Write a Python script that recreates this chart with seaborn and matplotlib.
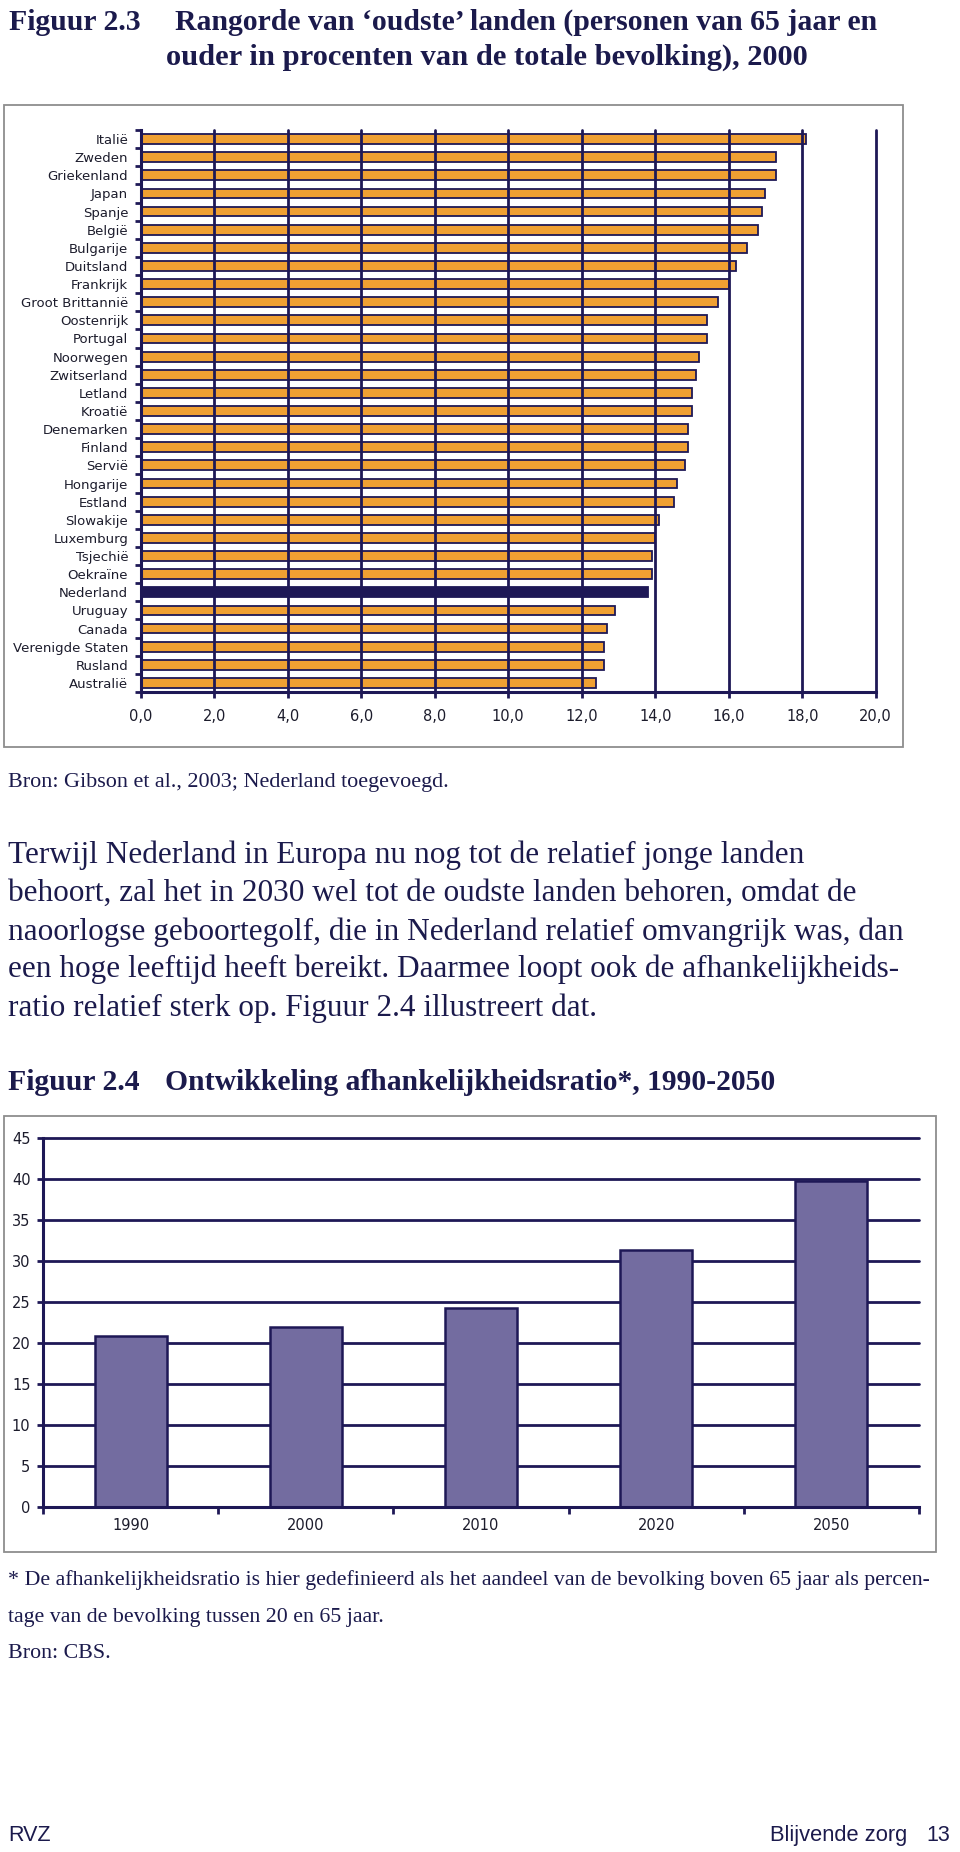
"""Pagina met figuur 2.3 (oudste landen) en figuur 2.4 (afhankelijkheidsratio)."""

import numpy as np
import pandas as pd
import matplotlib
matplotlib.use("Agg")
import matplotlib.pyplot as plt
from matplotlib.patches import Rectangle
import seaborn as sns

# --- data ----------------------------------------------------------------
countries = ["Italië", "Zweden", "Griekenland", "Japan", "Spanje", "België",
             "Bulgarije", "Duitsland", "Frankrijk", "Groot Brittannië",
             "Oostenrijk", "Portugal", "Noorwegen", "Zwitserland", "Letland",
             "Kroatië", "Denemarken", "Finland", "Servië", "Hongarije",
             "Estland", "Slowakije", "Luxemburg", "Tsjechië", "Oekraïne",
             "Nederland", "Uruguay", "Canada", "Verenigde Staten", "Rusland",
             "Australië"]
share65 = [18.1, 17.3, 17.3, 17.0, 16.9, 16.8, 16.5, 16.2, 16.0, 15.7,
           15.4, 15.4, 15.2, 15.1, 15.0, 15.0, 14.9, 14.9, 14.8, 14.6,
           14.5, 14.1, 14.0, 13.9, 13.9, 13.8, 12.9, 12.7, 12.6, 12.6, 12.4]
highlight = "Nederland"
x_ticks1 = [0, 2, 4, 6, 8, 10, 12, 14, 16, 18, 20]

years = ["1990", "2000", "2010", "2020", "2050"]
dep_ratio = [20.8, 22.0, 24.3, 31.3, 39.8]
y_ticks2 = [0, 5, 10, 15, 20, 25, 30, 35, 40, 45]

title1_lead = "Figuur 2.3"
title1_a = "Rangorde van \u2018oudste\u2019 landen (personen van 65 jaar en"
title1_b = "ouder in procenten van de totale bevolking), 2000"
source1 = "Bron: Gibson et al., 2003; Nederland toegevoegd."
paragraph = [
    "Terwijl Nederland in Europa nu nog tot de relatief jonge landen",
    "behoort, zal het in 2030 wel tot de oudste landen behoren, omdat de",
    "naoorlogse geboortegolf, die in Nederland relatief omvangrijk was, dan",
    "een hoge leeftijd heeft bereikt. Daarmee loopt ook de afhankelijkheids-",
    "ratio relatief sterk op. Figuur 2.4 illustreert dat.",
]
title2_lead = "Figuur 2.4"
title2_a = "Ontwikkeling afhankelijkheidsratio*, 1990-2050"
footnote = [
    "* De afhankelijkheidsratio is hier gedefinieerd als het aandeel van de bevolking boven 65 jaar als percen-",
    "tage van de bevolking tussen 20 en 65 jaar.",
    "Bron: CBS.",
]

# --- style ---------------------------------------------------------------
NAVY = "#1e1856"
TEXT = "#1b1a4c"
ORANGE = "#f0a032"
PURPLE = "#736ca0"
FRAME = "#8e8e8e"

sns.set_theme(style="white")
plt.rcParams["font.family"] = ["DejaVu Sans"]

W, H = 960, 1852
fig = plt.figure(figsize=(W / 100, H / 100), dpi=100)
renderer = fig.canvas.get_renderer()


def fx(x):
    return x / W


def fy(y):
    return 1 - y / H


def put(x, y, s, size, width=None, **kw):
    """Place text at pixel position; optionally scale it to a pixel width."""
    t = fig.text(fx(x), fy(y), s, fontsize=size, va="baseline", **kw)
    if width is not None:
        w = t.get_window_extent(renderer).width
        t.set_fontsize(size * width / w)
    return t


def frame(x0, y0, x1, y1):
    fig.patches.append(Rectangle((fx(x0), fy(y1)), fx(x1 - x0), (y1 - y0) / H,
                                 transform=fig.transFigure, fill=False,
                                 edgecolor=FRAME, linewidth=1.3))


serif = dict(family="Liberation Serif", color=TEXT)
bold = dict(fontweight="bold", **serif)

# --- titles and text ------------------------------------------------------
t = put(175, 30, title1_a, 20, width=702, **bold)
tsize = t.get_fontsize()
put(9, 30, title1_lead, tsize, **bold)
put(166, 65, title1_b, 20, width=640, **bold)

put(8, 787, source1, 14, width=442, **serif)

p = put(8, 977, paragraph[3], 20, width=892, **serif)
psize = p.get_fontsize()
for i, line in enumerate(paragraph):
    if i != 3:
        put(8, 863 + i * 38.3, line, psize, **serif)

put(8, 1090, title2_lead, tsize, **bold)
put(165, 1090, title2_a, 20, width=610, **bold)

f = put(8, 1585, footnote[0], 14, width=928, **serif)
fsize = f.get_fontsize()
put(8, 1622, footnote[1], fsize, **serif)
put(8, 1658, footnote[2], fsize, **serif)

put(8, 1841, "RVZ", 15.5, family="Liberation Sans", color=TEXT)
put(907, 1841, "Blijvende zorg", 15.5, width=137, family="Liberation Sans",
    color=TEXT, ha="right")
put(950, 1841, "13", 15.5, family="Liberation Sans", color=TEXT, ha="right")

frame(3.5, 105, 903, 746.5)
frame(3.5, 1116, 936, 1552)

# --- figuur 2.3 ----------------------------------------------------------
ax1 = fig.add_axes([fx(140.7), fy(692), fx(735), 562 / H])
df1 = pd.DataFrame({"land": countries, "pct": share65})
sns.barplot(data=df1, x="pct", y="land", color=ORANGE, saturation=1,
            width=0.54, edgecolor=NAVY, linewidth=1.3, ax=ax1)
# Nederland in donkerblauw
for patch, land in zip(ax1.patches, countries):
    if land == highlight:
        patch.set_facecolor(NAVY)
ax1.set_xlim(0, 20)
ax1.set_ylim(len(countries) - 0.5, -0.5)
ax1.set_xticks(x_ticks1)
ax1.set_xticklabels([f"{v:.1f}".replace(".", ",") for v in x_ticks1])
ax1.set_yticks(np.arange(-0.5, len(countries)), minor=True)
# rasterlijnen lopen door de staven heen
ax1.set_axisbelow(False)
ax1.xaxis.grid(True, color=NAVY, linewidth=2.0)
ax1.yaxis.grid(False)
for gl in ax1.get_xgridlines():
    gl.set_clip_on(False)
ax1.set_xlabel("")
ax1.set_ylabel("")
for side in ["top", "right"]:
    ax1.spines[side].set_visible(False)
for side in ["left", "bottom"]:
    ax1.spines[side].set_color(NAVY)
    ax1.spines[side].set_linewidth(2.2)
ax1.tick_params(axis="x", which="major", bottom=True, length=4, width=2,
                color=NAVY, pad=8, labelsize=10.5, labelcolor="#1c1c2c")
ax1.tick_params(axis="y", which="major", left=True, length=0, pad=9,
                labelsize=9.5, labelcolor="#1c1c2c")
ax1.tick_params(axis="y", which="minor", left=True, length=4, width=2,
                color=NAVY)

# --- figuur 2.4 ----------------------------------------------------------
ax2 = fig.add_axes([fx(43), fy(1506.7), fx(876), 368.4 / H])
sns.barplot(x=years, y=dep_ratio, color=PURPLE, saturation=1, width=0.41,
            edgecolor=NAVY, linewidth=1.8, ax=ax2)
ax2.set_ylim(0, 45)
ax2.set_xlim(-0.5, len(years) - 0.5)
ax2.set_yticks(y_ticks2)
ax2.set_xticks(np.arange(-0.5, len(years)), minor=True)
ax2.set_axisbelow(True)
ax2.yaxis.grid(True, color=NAVY, linewidth=2.0)
ax2.xaxis.grid(False)
for gl in ax2.get_ygridlines():
    gl.set_clip_on(False)
for side in ["top", "right"]:
    ax2.spines[side].set_visible(False)
for side in ["left", "bottom"]:
    ax2.spines[side].set_color(NAVY)
    ax2.spines[side].set_linewidth(2.2)
ax2.tick_params(axis="y", which="major", left=True, length=4, width=2,
                color=NAVY, pad=5, labelsize=10.5, labelcolor="#1c1c2c")
ax2.tick_params(axis="x", which="major", bottom=True, length=0, pad=8,
                labelsize=10.5, labelcolor="#1c1c2c")
ax2.tick_params(axis="x", which="minor", bottom=True, length=5, width=2,
                color=NAVY)

fig.savefig("out.png", dpi=100)
